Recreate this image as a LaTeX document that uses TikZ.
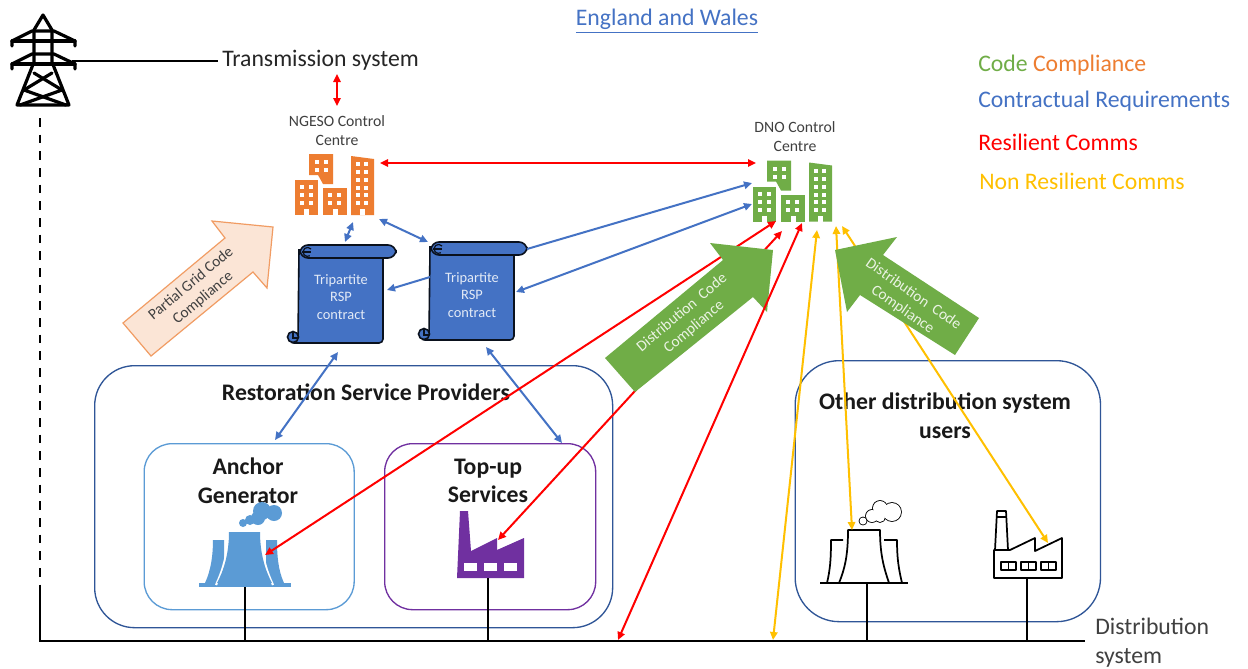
\documentclass[tikz,border=0pt]{standalone}
\usepackage{fontspec}
\setmainfont{Carlito}
\usetikzlibrary{arrows.meta}
\definecolor{cblue}{HTML}{4472C4}
\definecolor{cdark}{HTML}{2F5597}
\definecolor{cgreen}{HTML}{70AD47}
\definecolor{corange}{HTML}{ED7D31}
\definecolor{cpeach}{HTML}{FBE5D6}
\definecolor{cyel}{HTML}{FFC000}
\definecolor{csky}{HTML}{5B9BD5}
\definecolor{cpurple}{HTML}{7030A0}
\definecolor{cgrey}{HTML}{404040}
\tikzset{
  x=0.75pt,y=-0.75pt,
  redarr/.style={draw=red,line width=1.5pt,{Triangle[length=6pt,width=5.5pt]}-{Triangle[length=6pt,width=5.5pt]}},
  bluearr/.style={draw=cblue,line width=1.5pt,{Triangle[length=6pt,width=5.5pt]}-{Triangle[length=6pt,width=5.5pt]}},
  bluesingle/.style={draw=cblue,line width=1.5pt,-{Triangle[length=6pt,width=5.5pt]}},
  yelarr/.style={draw=cyel,line width=1.5pt,{Triangle[length=6pt,width=5.5pt]}-{Triangle[length=6pt,width=5.5pt]}},
  wire/.style={draw=black,line width=1.4pt},
  big/.style={font=\fontsize{17.8}{21}\selectfont,inner sep=0pt,text=black!85},
  legendtxt/.style={font=\fontsize{17.8}{21}\selectfont,inner sep=0pt,anchor=west},
  bold/.style={font=\fontsize{17.8}{21.5}\selectfont\bfseries,inner sep=0pt,align=center,text=black!90},
  small/.style={font=\fontsize{11.8}{14.2}\selectfont,inner sep=0pt,align=center,text=cgrey},
  scrolltxt/.style={font=\fontsize{10.8}{13.4}\selectfont,inner sep=0pt,align=center,text=white!85!cblue},
  arrowtxt/.style={font=\fontsize{11.5}{14}\selectfont,inner sep=0pt,align=center},
  rbox/.style={draw,line width=1pt,rounded corners=#1,anchor=north west,inner sep=0pt,fill=none},
  wdw/.style={fill=white,draw=none},
}
\newcommand{\wn}[2]{\fill[wdw] (#1,#2) rectangle ++(4,4);}
\newcommand{\buildings}[3]{%
\begin{scope}[shift={(#1,#2)}]
 \fill[#3] (295,180) rectangle (318,215);
 \fill[#3] (309,154)--(333,154)--(333,184)--(323,184)--(318,175)--(309,175)--cycle;
 \fill[#3] (323,188) rectangle (347,215);
 \fill[#3] (351,156)--(374,159)--(374,215)--(351,215)--cycle;
 \foreach \yy in {185,193,201}{\wn{300}{\yy}\wn{309}{\yy}}
 \foreach \yy in {160,168}{\wn{315}{\yy}\wn{324}{\yy}}
 \foreach \yy in {193,201}{\wn{328}{\yy}\wn{337}{\yy}}
 \foreach \yy in {162,170,178,186,193,201}{\wn{356}{\yy}\wn{364}{\yy}}
 \fill[wdw] (304,209) rectangle (309,215);
 \fill[wdw] (332.5,209) rectangle (337.5,215);
 \fill[wdw] (360,209) rectangle (365,215);
\end{scope}}
\newcommand{\scrollshape}[2]{%
\begin{scope}[shift={(#1,#2)},line width=1.2pt,draw=black!85!cblue,fill=cblue]
 \filldraw[rounded corners=3pt] (299,250)--(383,250)--(383,343)--(290,343)--(298,340)[sharp corners]--cycle;
 \filldraw (293,337) circle[radius=5.5];
 \draw[line width=0.9pt] (293,332)--(293,338)--(298,338);
 \filldraw[rounded corners=6pt] (300,245) rectangle (396,258);
 \draw[line width=0.9pt] (311,249) arc[start angle=-40,end angle=-300,radius=4.5];
 \draw[line width=0.9pt] (302,252)--(311,252);
\end{scope}}
\begin{document}
\begin{tikzpicture}
\useasboundingbox[fill=white] (0,0) rectangle (1248,668);

% tower
\begin{scope}[line width=2.4pt,line join=round,line cap=round]
 \draw (17,105)--(34,62)--(34,30)--(43,15)--(52,30)--(52,62)--(69,105)--cycle;
 \draw (12,46)--(12,41)--(32,31)--(54,31)--(75,41)--(75,46);
 \draw (12,41)--(75,41);
 \draw (12,69)--(12,64)--(32,54)--(54,54)--(75,64)--(75,69);
 \draw (12,64)--(75,64);
 \draw (34,73)--(62,90)--(20,105);
 \draw (52,73)--(24,90)--(66,105);
\end{scope}
\coordinate (towerjoin) at (72,61);
\coordinate (dashtop) at (40,118);
\coordinate (dashend) at (40,592);
\coordinate (distleft) at (40,641);
\coordinate (distright) at (1085,641);

\node[big,anchor=west] (trans) at (222,60) {Transmission system};
\draw[wire,shorten >=3pt] (towerjoin) -- (towerjoin -| trans.west);
\draw[black,line width=1.4pt,dash pattern=on 6.5pt off 6pt] (dashtop) -- (dashend);
\draw[wire] (dashend) -- (distleft) -- (distright);

% top labels
\node[font=\fontsize{17.8}{21}\selectfont,text=cblue,inner sep=0pt] (eng) at (667,21) {\underline{England and Wales}};
\node[legendtxt] (leg1) at (978,65) {\textcolor{cgreen}{Code} \textcolor{corange}{Compliance}};
\node[legendtxt,text=cblue] (leg2) at (978,101) {Contractual Requirements};
\node[legendtxt,text=red] (leg3) at (978,142) {Resilient Comms};
\node[legendtxt,text=cyel] (leg4) at (979,181) {Non Resilient Comms};

\node[small] (ngeso) at (337,131) {NGESO Control\\Centre};
\node[small] (dno) at (795,136.5) {DNO Control\\Centre};

\buildings{0}{0}{corange}
\buildings{458}{6.5}{cgreen}

% boxes
\node[rbox=30pt,draw=cdark,minimum width=388.5pt,minimum height=196.5pt] (rsp) at (94,365) {};
\node[rbox=21pt,draw=csky,minimum width=157.5pt,minimum height=124.5pt] (anchorbox) at (143.5,443) {};
\node[rbox=21pt,draw=cpurple,minimum width=158.25pt,minimum height=124.5pt] (topbox) at (384,443) {};
\node[rbox=33pt,draw=cdark,minimum width=229pt,minimum height=195.75pt] (otherbox) at (794.5,360) {};

\node[bold] (rsptxt) at (366,392) {Restoration Service Providers};
\node[bold] (anc) at (248,481) {Anchor\\Generator};
\node[bold] (top) at (488,481) {Top-up\\Services};
\node[bold] (oth) at (945,416) {Other distribution system\\users};

% scrolls
\scrollshape{0}{0}
\scrollshape{131}{-3}
\node[scrolltxt] (s1) at (341,297) {Tripartite\\RSP\\contract};
\node[scrolltxt] (s2) at (472,295) {Tripartite\\RSP\\contract};

% anchor tower
\fill[csky] (199,583) rectangle (291,587);
\fill[csky] (213,540)--(224,540)--(224,583)--(205,583) .. controls (211,570) and (213,555) .. cycle;
\fill[csky] (277,540)--(266,540)--(266,583)--(284,583) .. controls (278,570) and (277,555) .. cycle;
\draw[white,line width=1.6pt] (228,532) .. controls (228,555) and (222,572) .. (216,585);
\draw[white,line width=1.6pt] (261,532) .. controls (261,555) and (267,572) .. (273,585);
\fill[csky] (229,532)--(260,532) .. controls (260,555) and (266,572) .. (272,583)--(217,583) .. controls (223,572) and (229,555) .. cycle;
\foreach \cx/\cy/\cr in {243/523/4,250/520/5,258/518/7,262/511/9,274/513/8}{\fill[csky] (\cx,\cy) circle[radius=\cr];}

% purple factory
\fill[cpurple] (460,511)--(468,511)--(471,551)--(497,538)--(497,550)--(524,538)--(524,578)--(457,578)--cycle;
\foreach \wx in {464,484,504}{\fill[white] (\wx,563) rectangle ++(13,8);}

% outlined tower
\begin{scope}[line width=1.3pt,line join=round]
 \draw (820,583)--(908,583);
 \draw (839,583) .. controls (845,568) and (848,555) .. (848,530) -- (880,530) .. controls (880,555) and (884,568) .. (889,583);
 \draw (843,540)--(831,540) .. controls (831,560) and (830,570) .. (827,583);
 \draw (884,540)--(897,540) .. controls (897,560) and (899,570) .. (902,583);
 \foreach \cx/\cy/\cr in {863/521/3.5,872/516/6,880/508/7,892/512/9,880/517/5}{\draw (\cx,\cy) circle[radius=\cr];}
 \foreach \cx/\cy/\cr in {863/521/3.5,872/516/6,880/508/7,892/512/9,880/517/5}{\fill[white] (\cx,\cy) circle[radius=\cr];}
 % outlined factory
 \draw (994,578)--(994,550)--(1010,550)--(1035,538)--(1035,551)--(1062,538)--(1062,578)--cycle;
 \draw (995,550)--(997,511)--(1006,511)--(1008,550);
 \draw (997,517)--(1006,517);
 \foreach \wx in {1001,1021,1041}{\draw (\wx,562) rectangle ++(15,8); \draw (\wx+7.5,562)--(\wx+7.5,570);}
\end{scope}

% stubs
\coordinate (st1a) at (245,587); \coordinate (st1b) at (245,641);
\coordinate (st2a) at (488,578); \coordinate (st2b) at (488,641);
\coordinate (st3a) at (867,583); \coordinate (st3b) at (867,641);
\coordinate (st4a) at (1027,578); \coordinate (st4b) at (1027,641);
\draw[wire] (st1a)--(st1b);
\draw[wire] (st2a)--(st2b);
\draw[wire] (st3a)--(st3b);
\draw[wire] (st4a)--(st4b);

\node[font=\fontsize{17.8}{21.75}\selectfont,align=left,inner sep=0pt,anchor=west,text=cgrey] (dist) at (1095,642.5) {Distribution\\system};

% connector ends
\coordinate (r1a) at (337,74); \coordinate (r1b) at (337,106);
\coordinate (r2a) at (380,163); \coordinate (r2b) at (756,163);
\coordinate (b1a) at (345,242); \coordinate (b1b) at (353,222);
\coordinate (b2a) at (379,219); \coordinate (b2b) at (428,242);
\coordinate (b3a) at (527,249); \coordinate (b3b) at (752,183);
\coordinate (b4a) at (516,292); \coordinate (b4b) at (752,204);
\coordinate (b5a) at (430,277); \coordinate (b5b) at (387,290);
\coordinate (b6a) at (338,352); \coordinate (b6b) at (275,440);
\coordinate (b7a) at (486,347); \coordinate (b7b) at (562,443);
\coordinate (r3a) at (776,221); \coordinate (r3b) at (265,555);
\coordinate (r4a) at (782,231); \coordinate (r4b) at (498,540);
\coordinate (r5a) at (802,223); \coordinate (r5b) at (618,640);
\coordinate (y1a) at (817,230); \coordinate (y1b) at (773,640);
\coordinate (y2a) at (836,226); \coordinate (y2b) at (852,530);
\coordinate (y3a) at (842,226); \coordinate (y3b) at (1048,543);

\draw[redarr] (r1a)--(r1b);
\draw[redarr] (r2a)--(r2b);
\draw[bluearr] (b1a)--(b1b);
\draw[bluearr] (b2a)--(b2b);
\draw[bluesingle] (b3a)--(b3b);
\draw[bluearr] (b4a)--(b4b);
\draw[bluesingle] (b5a)--(b5b);
\draw[bluearr] (b6a)--(b6b);
\draw[bluearr] (b7a)--(b7b);
\draw[redarr] (r3a)--(r3b);
\draw[redarr] (r4a)--(r4b);
\draw[yelarr] (y1a)--(y1b);
\draw[yelarr] (y2a)--(y2b);
\draw[yelarr] (y3a)--(y3b);

% block arrows
\filldraw[fill=cpeach,draw=corange!70!cpeach,line width=0.9pt,line join=miter]
 (273,227)--(212,221)--(225,238)--(123,323)--(151,356)--(253,272)--(267,288)--cycle;
\node[arrowtxt,rotate=40,text=cgrey] (pgc) at (197,291) {Partial Grid Code\\Compliance};
\fill[cgreen] (773,250)--(710,243)--(723,260)--(605,358)--(635,392)--(753,297)--(767,312)--cycle;
\node[arrowtxt,rotate=40,text=white!85!cgreen] (dc1) at (688,320) {Distribution\ \ Code\\Compliance};
\fill[cgreen] (835,250)--(897,237)--(883,255)--(979,318)--(955,355)--(860,295)--(847,312)--cycle;
\node[arrowtxt,rotate=-35,text=white!85!cgreen] (dc2) at (908,302) {Distribution\ \ Code\\Compliance};
\draw[redarr] (r5a)--(r5b);
\end{tikzpicture}
\end{document}
